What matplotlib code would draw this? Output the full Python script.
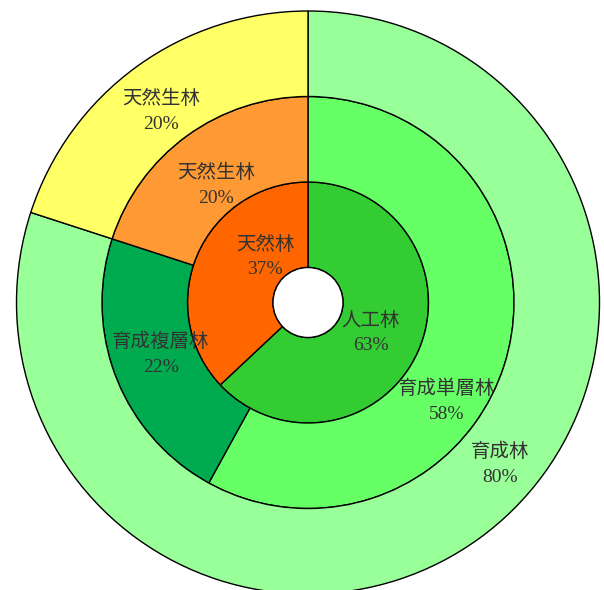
import matplotlib
matplotlib.use("Agg")
import matplotlib.pyplot as plt

# inner ring
inner_names = ["人工林", "天然林"]
inner_vals = [63, 37]
inner_colors = ["#33cc33", "#ff6600"]

# middle ring
mid_names = ["育成単層林", "育成複層林", "天然生林"]
mid_vals = [58, 22, 20]
mid_colors = ["#66ff66", "#00aa4f", "#ff9933"]

# outer ring
outer_names = ["育成林", "天然生林"]
outer_vals = [80, 20]
outer_colors = ["#99ff99", "#ffff66"]

W, H = 604, 590
cx, cy = 308, H - 302.5
hole = 35
ring = 85.5

fig = plt.figure(figsize=(W / 100, H / 100), dpi=100)
ax = fig.add_axes([0, 0, 1, 1])

wp = dict(edgecolor="black", linewidth=1.0)
for k, (vals, cols) in enumerate([(inner_vals, inner_colors),
                                  (mid_vals, mid_colors),
                                  (outer_vals, outer_colors)]):
    r = hole + ring * (k + 1)
    ax.pie(vals, colors=cols, radius=r, center=(cx, cy), startangle=90,
           counterclock=False, wedgeprops=dict(width=ring, **wp))

ax.add_patch(plt.Circle((cx, cy), hole, facecolor="white",
                        edgecolor="black", linewidth=1.0, zorder=5))

# label centres (pixels from top-left), one per wedge
label_pos = {
    ("inner", 0): (371, 333), ("inner", 1): (265, 257),
    ("mid", 0): (447, 401), ("mid", 1): (161, 354), ("mid", 2): (216, 185),
    ("outer", 0): (500, 464), ("outer", 1): (161, 111),
}
fam = ["Liberation Serif", "Noto Sans CJK JP"]
for ring_name, names, vals in [("inner", inner_names, inner_vals),
                               ("mid", mid_names, mid_vals),
                               ("outer", outer_names, outer_vals)]:
    for i, (n, v) in enumerate(zip(names, vals)):
        x, y = label_pos[(ring_name, i)]
        ax.text(x, H - y, f"{n}\n{v}%", ha="center", va="center",
                fontsize=14, family=fam, color="#333333",
                linespacing=1.6, zorder=6)

ax.set_xlim(0, W)
ax.set_ylim(0, H)
ax.set_aspect("equal")
ax.axis("off")
fig.savefig("out.png", dpi=100)
